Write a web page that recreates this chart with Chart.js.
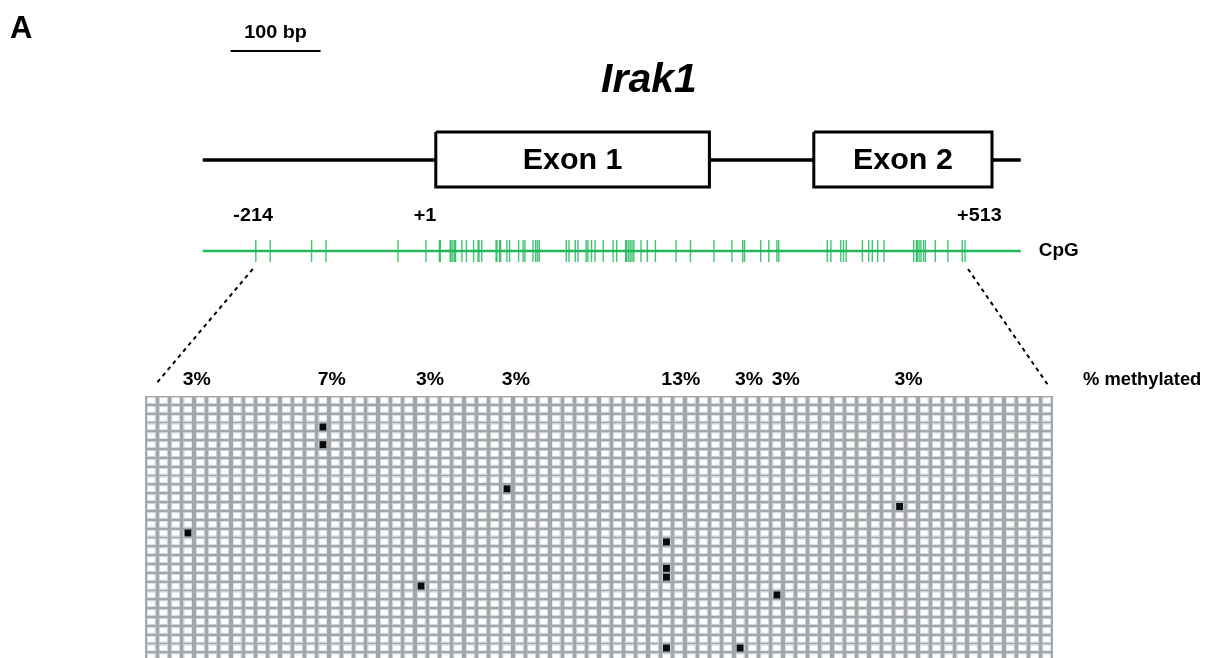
<!DOCTYPE html>
<html>
<head>
<meta charset="utf-8">
<script src="https://cdn.jsdelivr.net/npm/chart.js@4.4.0/dist/chart.umd.min.js"></script>
<style>
  html, body { margin: 0; padding: 0; background: #fff; }
  #wrap { width: 1205px; height: 658px; }
</style>
</head>
<body>
<div id="wrap"><canvas id="chart" width="1205" height="658"></canvas></div>
<script>
// --------------------------------------------------
//  Irak1 promoter – bisulfite methylation map
// --------------------------------------------------

/* ----------  DATA  ---------- */
// gene track, figure coordinates in bp (0.9 px per bp, +1 = 0)
const geneName   = 'Irak1';
const backbone   = [-247, 662];
const exonStarts = [12, 432];
const exonEnds   = [316, 630];
const exonLabels = ['Exon 1', 'Exon 2'];
const scaleBar   = [-216, -116];          // 100 bp
const scaleLabel = '100 bp';

const cpgSites = [
  -188, -172, -126, -110, -30, 1, 16, 17, 28, 29, 31, 33, 34, 41, 46, 54, 59, 60, 63,
  79, 80, 83, 84, 91, 94, 104, 109, 111, 120, 123, 125, 127, 157, 160, 167, 170,
  179, 181, 185, 189, 198, 209, 213, 223, 224, 226, 228, 230, 232, 240, 247, 256,
  279, 295, 321, 341, 353, 355, 373, 382, 391, 393, 447, 451, 462, 465, 468, 486,
  493, 497, 503, 510, 543, 546, 547, 549, 551, 554, 556, 567, 581, 597, 600
];
const siteTicks      = [-191, 0, 616];
const siteTickLabels = ['-214', '+1', '+513'];

// methylation grid: 74 CpGs (columns) x 30 clones (rows)
const nColumns = 74;
const nClones  = 30;
const methCol  = [3, 14, 14, 22, 29, 42, 42, 42, 42, 48, 51, 61];
const methRow  = [15, 3, 5, 21, 10, 16, 19, 20, 28, 28, 22, 12];

/* ----------  LAYOUT (px)  ---------- */
const W = 1205, H = 658;
const PX_PER_BP = 0.9, ORIGIN_PX = 425;
const COL_W = 12.27, GRID_LEFT = 145;
const ROW_H = 8.84,  GRID_TOP  = 396;
const Y = { scaleTxt: 33, scaleBar: 51, title: 81, gene: 160, exonTop: 132, exonBot: 187,
            siteTxt: 216, cpg: 251, pct: 380 };

const FONT = '"Liberation Sans", Arial, Helvetica, sans-serif';
const GREEN = '#22b85a';

/* ----------  DATASETS  ---------- */
// backbone broken at exons
const backbonePts = [{ x: backbone[0], y: Y.gene }];
exonStarts.forEach((s, i) => {
  backbonePts.push({ x: s, y: Y.gene }, { x: s, y: null }, { x: exonEnds[i], y: Y.gene });
});
backbonePts.push({ x: backbone[1], y: Y.gene });

const exonSets = exonStarts.map((s, i) => ({
  type: 'line',
  data: [
    { x: s, y: Y.exonTop }, { x: exonEnds[i], y: Y.exonTop },
    { x: exonEnds[i], y: Y.exonBot }, { x: s, y: Y.exonBot }, { x: s, y: Y.exonTop }
  ],
  borderColor: '#000', borderWidth: 3, borderJoinStyle: 'miter',
  pointRadius: 0, fill: false, order: 2
}));

const cellPts = [];
for (let r = 0; r < nClones; r++)
  for (let c = 0; c < nColumns; c++) cellPts.push({ x: c, y: r });

const methPts = methCol.map((c, i) => ({ x: c, y: methRow[i] }));

// cell glyph: white square with light grey rim
const cell = document.createElement('canvas');
cell.width = 9; cell.height = 7;
const cctx = cell.getContext('2d');
cctx.fillStyle = '#cfd2d5'; cctx.fillRect(0, 0, 9, 7);
cctx.fillStyle = '#ffffff'; cctx.fillRect(1, 1, 7, 5);

/* ----------  PLUGINS  ---------- */
function txt(ctx, s, x, y, font, align, sx) {
  ctx.save();
  ctx.font = font;
  ctx.fillStyle = '#000';
  ctx.textAlign = align || 'center';
  ctx.textBaseline = 'middle';
  ctx.translate(x, y);
  ctx.scale(sx || 1, 1);
  ctx.fillText(s, 0, 0);
  ctx.restore();
}

const gridBg = {
  id: 'gridBg',
  beforeDatasetsDraw(chart) {
    const { ctx, scales: { xg, yg } } = chart;
    const l = xg.getPixelForValue(-0.5), r = xg.getPixelForValue(nColumns - 0.5);
    const t = yg.getPixelForValue(-0.5), b = yg.getPixelForValue(nClones - 0.5);
    ctx.save();
    ctx.fillStyle = '#a2a7ac';
    ctx.fillRect(l, t, r - l, b - t);
    ctx.restore();
  }
};

const annotations = {
  id: 'annotations',
  afterDatasetsDraw(chart) {
    const { ctx, scales: { x, xg } } = chart;
    const b = (s) => `bold ${s}px ${FONT}`;

    txt(ctx, 'A', 10, 29, b(31), 'left');
    txt(ctx, scaleLabel, x.getPixelForValue((scaleBar[0] + scaleBar[1]) / 2), Y.scaleTxt, b(18), 'center', 1.1);
    txt(ctx, geneName, 649, Y.title, `italic bold 41px ${FONT}`);

    exonLabels.forEach((lab, i) => {
      txt(ctx, lab, x.getPixelForValue((exonStarts[i] + exonEnds[i]) / 2), Y.gene + 1, b(29), 'center', 1.05);
    });
    siteTickLabels.forEach((lab, i) => {
      txt(ctx, lab, x.getPixelForValue(siteTicks[i]), Y.siteTxt, b(18), 'center', 1.1);
    });
    txt(ctx, 'CpG', x.getPixelForValue(backbone[1]) + 18, Y.cpg, b(18), 'left', 1.05);

    // dotted zoom lines CpG track -> grid
    ctx.save();
    ctx.strokeStyle = '#000';
    ctx.lineWidth = 2;
    ctx.setLineDash([4, 4]);
    ctx.beginPath();
    ctx.moveTo(x.getPixelForValue(cpgSites[0]) - 3, Y.cpg + 18);
    ctx.lineTo(xg.getPixelForValue(-0.5) + 10, Y.pct + 5);
    ctx.moveTo(x.getPixelForValue(cpgSites[cpgSites.length - 1]) + 3, Y.cpg + 18);
    ctx.lineTo(xg.getPixelForValue(nColumns - 0.5) - 5, Y.pct + 5);
    ctx.stroke();
    ctx.restore();

    // % methylated per CpG
    const counts = {};
    methCol.forEach(c => (counts[c] = (counts[c] || 0) + 1));
    Object.keys(counts).forEach(c => {
      const pct = Math.round(100 * counts[c] / nClones) + '%';
      txt(ctx, pct, xg.getPixelForValue(+c - 0.5) + 1, Y.pct, b(18), 'left', 1.08);
    });
    txt(ctx, '% methylated', xg.getPixelForValue(nColumns - 0.5) + 30, Y.pct, b(18), 'left', 1.02);
  }
};

/* ----------  CHART  ---------- */
new Chart(document.getElementById('chart'), {
  type: 'scatter',
  data: {
    datasets: [
      { data: methPts, xAxisID: 'xg', yAxisID: 'yg', pointStyle: 'rect',
        pointRadius: 4.9, backgroundColor: '#0a0a0a', borderWidth: 0, order: 0 },
      { data: cellPts, xAxisID: 'xg', yAxisID: 'yg', pointStyle: cell,
        pointRadius: 4, order: 1 },
      ...exonSets,
      { type: 'line', data: backbonePts, borderColor: '#000', borderWidth: 3.5,
        pointRadius: 0, spanGaps: false, order: 3 },
      { type: 'line', data: scaleBar.map(v => ({ x: v, y: Y.scaleBar })),
        borderColor: '#000', borderWidth: 2, pointRadius: 0, order: 3 },
      { data: cpgSites.map(v => ({ x: v, y: Y.cpg })), pointStyle: 'line', rotation: 90,
        pointRadius: 11, borderColor: 'rgba(34,184,90,0.85)', borderWidth: 1.4, order: 4 },
      { type: 'line', data: backbone.map(v => ({ x: v, y: Y.cpg })),
        borderColor: GREEN, borderWidth: 2.4, pointRadius: 0, order: 5 }
    ]
  },
  options: {
    responsive: false,
    animation: false,
    events: [],
    layout: { padding: 0, autoPadding: false },
    plugins: { legend: { display: false }, tooltip: { enabled: false }, title: { display: false } },
    scales: {
      x:  { type: 'linear', axis: 'x', display: false,
            min: -ORIGIN_PX / PX_PER_BP, max: (W - ORIGIN_PX) / PX_PER_BP },
      y:  { type: 'linear', axis: 'y', display: false, reverse: true, min: 0, max: H },
      xg: { type: 'linear', axis: 'x', display: false,
            min: -0.5 - GRID_LEFT / COL_W, max: -0.5 - GRID_LEFT / COL_W + W / COL_W },
      yg: { type: 'linear', axis: 'y', display: false, reverse: true,
            min: -0.5 - GRID_TOP / ROW_H, max: -0.5 - GRID_TOP / ROW_H + H / ROW_H }
    }
  },
  plugins: [gridBg, annotations]
});
</script>
</body>
</html>
